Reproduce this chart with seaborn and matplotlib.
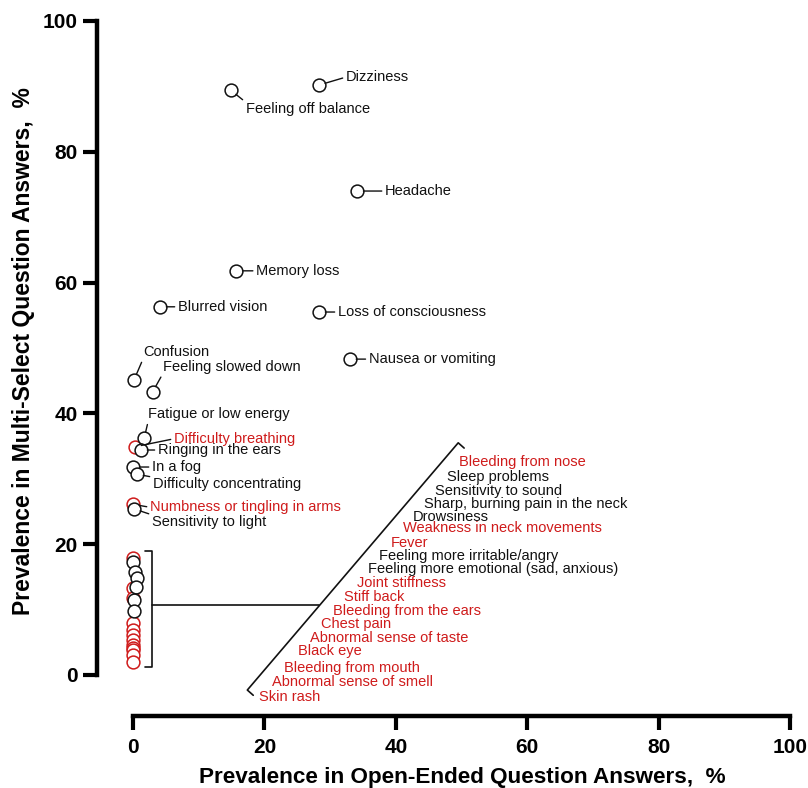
import numpy as np
import pandas as pd
import seaborn as sns
import matplotlib.pyplot as plt

RED = '#cf1b1b'
BLACK = '#111111'

# 有标注的症状（上方散点）
top_names = ['Dizziness', 'Feeling off balance', 'Headache', 'Memory loss',
             'Blurred vision', 'Loss of consciousness', 'Nausea or vomiting',
             'Confusion', 'Feeling slowed down', 'Fatigue or low energy',
             'Difficulty breathing', 'Ringing in the ears', 'In a fog',
             'Difficulty concentrating', 'Numbness or tingling in arms',
             'Sensitivity to light']
top_open = [28.3, 14.9, 34.1, 15.7, 4.1, 28.3, 33.0, 0.15, 3.0, 1.7,
            0.3, 1.2, 0.0, 0.6, 0.0, 0.15]
top_multi = [90.2, 89.4, 74.0, 61.8, 56.3, 55.5, 48.3, 45.1, 43.3, 36.2,
             34.9, 34.4, 31.8, 30.7, 26.1, 25.4]
top_group = ['k', 'k', 'k', 'k', 'k', 'k', 'k', 'k', 'k', 'k',
             'r', 'k', 'k', 'k', 'r', 'k']

# 开放题中几乎为 0 的症状（左下角一簇）
low_names = ['Bleeding from nose', 'Sleep problems', 'Sensitivity to sound',
             'Sharp, burning pain in the neck', 'Drowsiness',
             'Weakness in neck movements', 'Fever', 'Feeling more irritable/angry',
             'Feeling more emotional (sad, anxious)', 'Joint stiffness',
             'Stiff back', 'Bleeding from the ears', 'Chest pain',
             'Abnormal sense of taste', 'Black eye', 'Bleeding from mouth',
             'Abnormal sense of smell', 'Skin rash']
low_open = [0.0, 0.05, 0.3, 0.55, 0.45, 0.0, 0.0, 0.2, 0.2, 0.0,
            0.0, 0.0, 0.0, 0.0, 0.0, 0.0, 0.0, 0.0]
low_multi = [17.9, 17.3, 15.8, 14.8, 13.5, 13.3, 11.8, 11.4, 9.8, 8.0,
             6.9, 6.1, 5.4, 4.6, 4.2, 3.8, 3.0, 2.0]
low_group = ['r', 'k', 'k', 'k', 'k', 'r', 'r', 'k', 'k', 'r',
             'r', 'r', 'r', 'r', 'r', 'r', 'r', 'r']

ticks = [0, 20, 40, 60, 80, 100]

df = pd.DataFrame({
    'name': top_names + low_names,
    'open': top_open + low_open,
    'multi': top_multi + low_multi,
    'group': top_group + low_group,
})
colors = {'k': BLACK, 'r': RED}

# 标签偏移（像素，向右/向下为正）与引线起点
top_offsets = [(27, -8), (15, 19), (28, 0), (20, 0), (18, 0), (19, 0), (19, 0),
               (9, -28), (10, -25), (4, -24), (39, -8), (17, 0), (19, 0),
               (16, 10), (17, 3), (18, 13)]
top_relpos = [(0, 0.5), (0, 1), (0, 0.5), (0, 0.5), (0, 0.5), (0, 0.5), (0, 0.5),
              (0, 0), (0, 0), (0, 0), (0, 0.5), (0, 0.5), (0, 0.5),
              (0, 1), (0, 0.5), (0, 1)]
# 斜线旁标签的纵向位置
low_label_y = [32.5, 30.3, 28.1, 26.1, 24.2, 22.4, 20.2, 18.2, 16.2, 14.1,
               11.9, 9.8, 7.8, 5.7, 3.6, 1.1, -1.1, -3.3]

sns.set_style('ticks')
plt.rcParams['font.family'] = ['Liberation Sans', 'DejaVu Sans']

fig = plt.figure(figsize=(8.08, 7.88), dpi=100)
ax = fig.add_axes([97 / 808, 1 - 716 / 788, 693 / 808, 695 / 788])

for g in ['r', 'k']:
    sns.scatterplot(data=df[df['group'] == g], x='open', y='multi', ax=ax,
                    color='white', edgecolor=colors[g], s=85, linewidth=1.1,
                    clip_on=False, zorder=3, legend=False)

px2pt = 0.72
for i, name in enumerate(top_names):
    c = colors[top_group[i]]
    dx, dy = top_offsets[i]
    ax.annotate(name, xy=(top_open[i], top_multi[i]),
                xytext=(dx * px2pt, -dy * px2pt), textcoords='offset points',
                ha='left', va='center', fontsize=10.5, color=c,
                arrowprops=dict(arrowstyle='-', color=BLACK, lw=1.0,
                                shrinkA=0, shrinkB=4.6, relpos=top_relpos[i]))

# 左侧括号 + 横线 + 斜线
bx = 2.9
ax.plot([bx - 1.0, bx, bx, bx - 1.0], [19.0, 19.0, 1.2, 1.2], color=BLACK, lw=1.2)
ax.plot([bx, 28.3], [10.7, 10.7], color=BLACK, lw=1.2)
d0 = (17.4, -2.3)
d1 = (49.5, 35.5)
slope = (d1[0] - d0[0]) / (d1[1] - d0[1])
ax.plot([d0[0] + 0.9, d0[0], d1[0], d1[0] + 0.9],
        [d0[1] - 0.8, d0[1], d1[1], d1[1] - 0.8],
        color=BLACK, lw=1.2, clip_on=False)

for i, name in enumerate(low_names):
    yy = low_label_y[i]
    xx = d0[0] + (yy - d0[1]) * slope + 2.7
    ax.text(xx, yy, name, ha='left', va='center', fontsize=10.5,
            color=colors[low_group[i]])

ax.set_xlim(-5.48, 100)
ax.set_ylim(-6.27, 100)
ax.set_xticks(ticks)
ax.set_yticks(ticks)
ax.set_xticklabels(ticks, fontsize=15, fontweight='bold', color='black')
ax.set_yticklabels(ticks, fontsize=15, fontweight='bold', color='black')
sns.despine(ax=ax)
for s in ['left', 'bottom']:
    ax.spines[s].set_linewidth(3.2)
    ax.spines[s].set_color('black')
    ax.spines[s].set_bounds(0, 100)
ax.tick_params(width=3, length=10, color='black')
ax.tick_params(axis='x', pad=6)
ax.tick_params(axis='y', pad=4)

ax.set_xlabel('Prevalence in Open-Ended Question Answers,  %',
              fontsize=16.2, fontweight='bold', color='black', va='baseline')
ax.set_ylabel('Prevalence in Multi-Select Question Answers,  %',
              fontsize=16.5, fontweight='bold', color='black')
ax.xaxis.set_label_coords(0.527, -0.097)
ax.yaxis.set_label_coords(-0.09, 0.525)

plt.savefig('out.png', dpi=100)
